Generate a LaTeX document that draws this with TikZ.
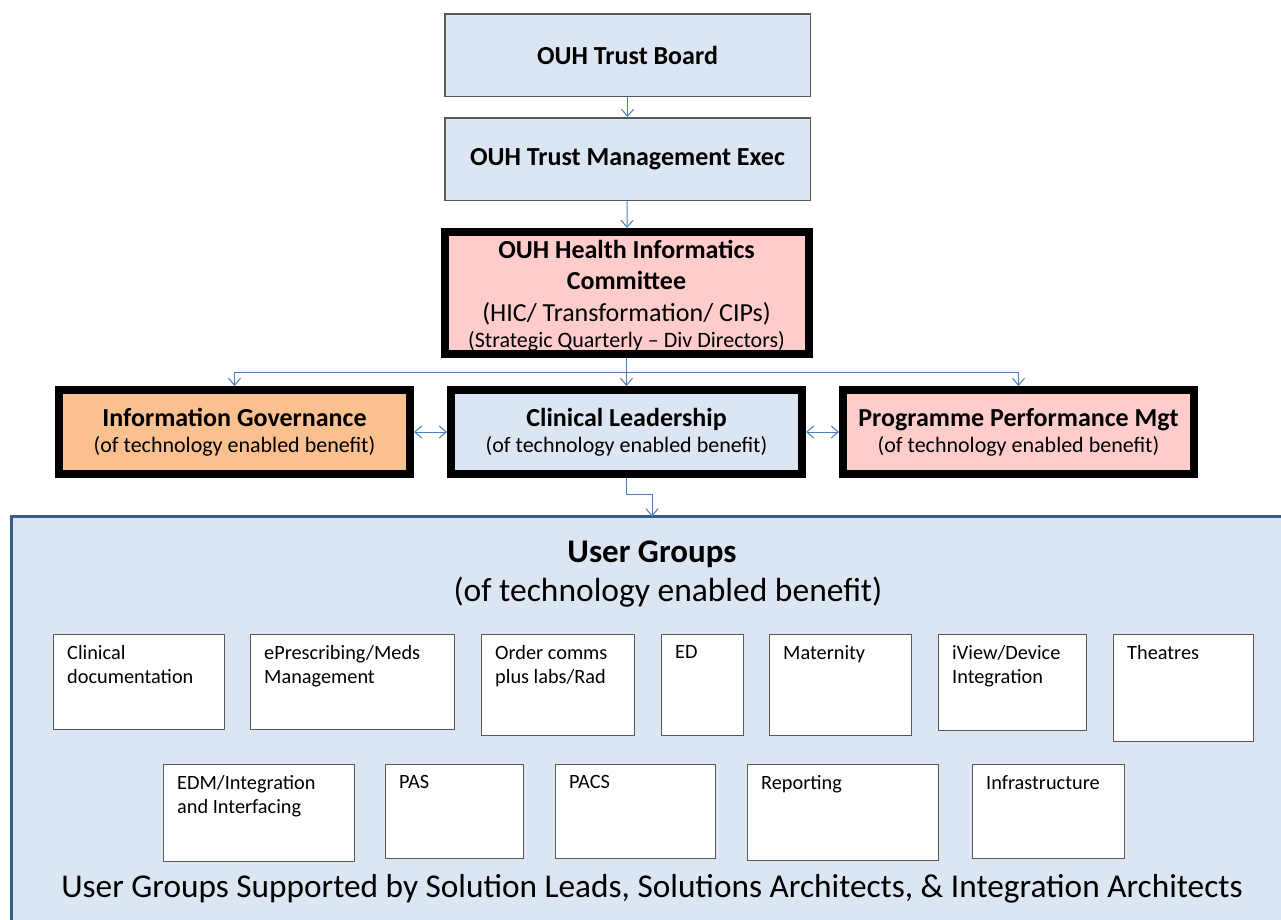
\documentclass[tikz,border=0pt]{standalone}
\usepackage{fontspec}
\setmainfont{Carlito}
\usetikzlibrary{arrows.meta,calc}
\definecolor{lblue}{HTML}{DCE6F2}
\definecolor{bgray}{HTML}{595959}
\definecolor{arrblue}{HTML}{4A7EBB}
\definecolor{orng}{HTML}{FAC090}
\definecolor{pnk}{HTML}{FFCCCC}
\definecolor{ugblue}{HTML}{385D8A}
\newcommand\fs[2]{\fontsize{#1}{#2}\selectfont}
\tikzset{
  topbox/.style={draw=bgray, line width=1.5pt, fill=lblue, inner sep=0pt, align=center, font=\bfseries\fs{26}{30}},
  thickbox/.style={draw=black, line width=8pt, inner sep=0pt, align=center},
  midbox/.style={thickbox, minimum width=351, minimum height=84, font=\fs{26}{26}},
  smallbox/.style={draw=bgray, line width=1.2pt, fill=white, inner sep=0pt, anchor=north west},
  smalltext/.style={anchor=north west, inner sep=0pt, align=left, font=\fs{20.3}{24.5}},
  bigtext/.style={inner sep=0pt, anchor=base},
  arr/.style={draw=arrblue, line width=1pt, -{Straight Barb[length=7pt,width=12pt]}},
  darr/.style={draw=arrblue, line width=1pt, {Straight Barb[length=7pt,width=12pt]}-{Straight Barb[length=7pt,width=12pt]}},
}
\newcommand\ugb[6]{%
  \node[smallbox, minimum width={#4-#2}, minimum height={#5-#3}] (#1) at (#2,#3) {};
  \node[smalltext] (#1t) at ([xshift=14pt,yshift=-11pt]#1.north west) {#6};
}
\begin{document}
\begin{tikzpicture}[x=1pt,y=-1pt]
\useasboundingbox (0,0) rectangle (1281,919);
\clip (0,0) rectangle (1281,919);
\fill[white] (0,0) rectangle (1281,919);

\node[topbox, minimum width=365.5, minimum height=82.5] (tb) at (627.5,55) {OUH Trust Board};
\node[topbox, minimum width=365.5, minimum height=82.5] (tme) at (627.5,159) {OUH Trust Management Exec};

\node[thickbox, fill=pnk, minimum width=364, minimum height=122] (hic) at (626.5,293) {};
\node[inner sep=0pt, align=center, font=\fs{26}{31.5}] (hict) at (626.5,295.5)
  {\bfseries OUH Health Informatics\\\bfseries Committee\\(HIC/ Transformation/ CIPs)\\[-5pt]\fs{22}{26}(Strategic Quarterly -- Div Directors)};

\node[midbox, fill=orng] (ig) at (234.5,432)
  {\bfseries Information Governance\\\fs{22}{26}(of technology enabled benefit)};
\node[midbox, fill=lblue] (cl) at (626.5,432)
  {\bfseries Clinical Leadership\\\fs{22}{26}(of technology enabled benefit)};
\node[midbox, fill=pnk] (ppm) at (1018.5,432)
  {\bfseries Programme Performance Mgt\\\fs{22}{26}(of technology enabled benefit)};

\node[draw=ugblue, line width=3pt, fill=lblue, anchor=north west, inner sep=0pt, minimum width=1300, minimum height=420] (ug) at (10,515) {};

\node[bigtext, font=\bfseries\fs{33}{38}] (ugt) at (652,562) {User Groups};
\node[bigtext, font=\fs{33.5}{38}] (ugs) at (668,601) {(of technology enabled benefit)};

\ugb{b1}{53}{634}{224}{729}{Clinical\\documentation}
\ugb{b2}{250}{634}{454}{729}{ePrescribing/Meds\\Management}
\ugb{b3}{481}{634}{634}{735}{Order comms\\plus labs/Rad}
\ugb{b4}{661}{634}{743}{735}{ED}
\ugb{b5}{769}{634}{911}{735}{Maternity}
\ugb{b6}{938}{634}{1086}{730}{iView/Device\\Integration}
\ugb{b7}{1113}{634}{1253}{741}{Theatres}
\ugb{c1}{163}{764}{354}{861}{EDM/Integration\\and Interfacing}
\ugb{c2}{385}{764}{523}{858}{PAS}
\ugb{c3}{555}{764}{715}{858}{PACS}
\ugb{c4}{747}{764}{938}{860}{Reporting}
\ugb{c5}{972}{764}{1124}{858}{Infrastructure}

\node[bigtext, font=\fs{33.3}{38}] (ugf) at (652,897) {User Groups Supported by Solution Leads, Solutions Architects, \& Integration Architects};

\coordinate (hb) at (627,372);
\draw[arr] (tb) -- (tme);
\draw[arr] (tme) -- (hic);
\draw[arr] (hic.south) -- (cl.north);
\draw[arr] (hb) -| (ig.north);
\draw[arr] (hb) -| (ppm.north);
\draw[darr] (ig.east) -- (cl.west);
\draw[darr] (cl.east) -- (ppm.west);
\draw[arr] (cl.south) -- ++(0,16) -| ([xshift=642pt,yshift=-1.5pt]ug.north west);
\end{tikzpicture}
\end{document}
